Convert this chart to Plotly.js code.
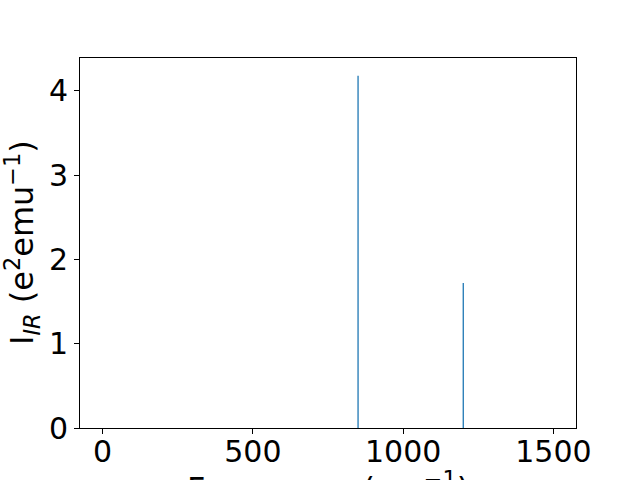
<!DOCTYPE html>
<html><head><meta charset="utf-8">
<script src="https://cdn.plot.ly/plotly-3.0.1.min.js"></script>
<style>html,body{margin:0;padding:0;background:#fff}#chart{width:640px;height:480px}</style>
</head><body><div id="chart"></div>
<script>
const frequencies = [850, 1200];
const intensities = [4.18, 1.72];
const xTickVals = [0, 500, 1000, 1500];
const yTickVals = [0, 1, 2, 3, 4];

const xs = [], ys = [];
frequencies.forEach((f, i) => { xs.push(f, f, null); ys.push(0, intensities[i], null); });

const trace = {x: xs, y: ys, type: 'scatter', mode: 'lines',
  line: {color: '#1f77b4', width: 1.3}, hoverinfo: 'skip', showlegend: false};

const tickFont = {family: 'DejaVu Sans', size: 30, color: '#000'};
const labelFont = {family: 'DejaVu Sans', size: 32, color: '#000'};
const layout = {
  width: 640, height: 480,
  margin: {l: 80, r: 64, t: 58, b: 52},
  paper_bgcolor: '#fff', plot_bgcolor: '#fff',
  font: tickFont,
  xaxis: {range: [-75, 1575], tickvals: xTickVals, ticks: 'outside', ticklen: 5, tickwidth: 1,
    tickcolor: '#000', showline: true, mirror: true, linecolor: '#000', linewidth: 1,
    showgrid: false, zeroline: false, tickfont: tickFont, ticklabelstandoff: -8},
  yaxis: {range: [0, 4.39], tickvals: yTickVals, ticks: 'outside', ticklen: 5, tickwidth: 1,
    tickcolor: '#000', showline: true, mirror: true, linecolor: '#000', linewidth: 1,
    showgrid: false, zeroline: false, tickfont: tickFont},
  annotations: [
    {text: 'Frequency (cm<sup>−1</sup>)', xref: 'paper', yref: 'paper', x: 0.5, y: 0,
     xanchor: 'center', yanchor: 'top', yshift: -36, showarrow: false, font: labelFont},
    {text: 'I<sub><i>IR</i></sub> (e<sup>2</sup>emu<sup>−1</sup>)', xref: 'paper', yref: 'paper',
     x: 0, y: 0.5, xanchor: 'center', yanchor: 'middle', xshift: -58, textangle: -90,
     showarrow: false, font: labelFont}
  ]
};
Plotly.newPlot('chart', [trace], layout, {displayModeBar: false, staticPlot: true});
</script></body></html>
